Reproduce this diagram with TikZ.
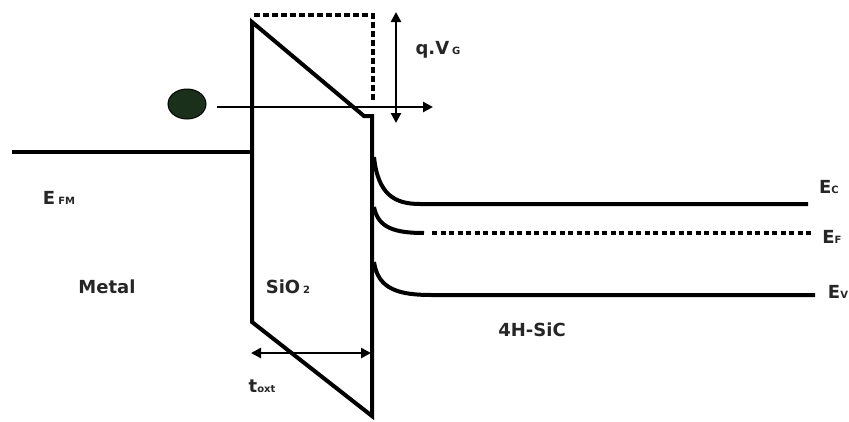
\documentclass[tikz,border=0pt]{standalone}
\usepackage{fontspec}
\setmainfont{DejaVu Sans}
\usetikzlibrary{arrows.meta}

\tikzset{
    band/.style={black, line width=4pt},
    lbl/.style={font=\fontsize{18}{20}\selectfont\bfseries, text=black!85, inner sep=0pt},
    tip/.style={line width=2.6pt, {Triangle[length=10pt,width=10pt]}-{Triangle[length=10pt,width=10pt]}}
}
\newcommand{\sub}[1]{{\fontsize{10}{10}\selectfont #1}}

\begin{document}
\begin{tikzpicture}[x=1pt,y=-1pt]
    \useasboundingbox (0,0) rectangle (849,421);

    \coordinate (m1) at (12,152);
    \coordinate (m2) at (252,152);
    \coordinate (ox1) at (252,22);
    \coordinate (ox2) at (252,322);
    \coordinate (ox3) at (372,416);
    \coordinate (ox4) at (372,116);
    \coordinate (ox5) at (364,116);
    \coordinate (q1) at (396,12);
    \coordinate (q2) at (396,123);
    \coordinate (h1) at (217,107);
    \coordinate (h2) at (433,107);
    \coordinate (t1) at (251,353);
    \coordinate (t2) at (371,353);

    \node (efm) at (59,198) [lbl] {E\,\sub{FM}};
    \node (metal) at (107,287) [lbl] {Metal};
    \node (sio) at (288,287) [lbl] {SiO\,\sub{2}};
    \node (sic) at (532,330) [lbl] {4H-SiC};
    \node (ec) at (829,187) [lbl] {E\sub{C}};
    \node (ef) at (832,237) [lbl] {E\sub{F}};
    \node (ev) at (838,292) [lbl] {E\sub{V}};
    \node (qvg) at (438,50) [lbl] {q.V\,\sub{G}};
    \node (tox) at (262,386) [lbl] {t\sub{oxt}};

    \draw[band] (m1) -- (m2);
    \draw[band, line join=miter] (ox5) -- (ox1) -- (ox2) -- (ox3) -- (ox4) -- cycle;
    \draw[line width=4pt, dash pattern=on 6pt off 3pt] (254,15) -- (373,15) -- (373,100);

    \fill[draw=black, line width=1pt, fill={rgb,255:red,26;green,48;blue,26}] (187,104) ellipse (19 and 15);
    \draw[line width=2.6pt, -{Triangle[length=10pt,width=10pt]}] (h1) -- (h2);
    \draw[tip] (q1) -- (q2);
    \draw[tip] (t1) -- (t2);

    \draw[band] (374,157) .. controls (378,195) and (395,204) .. (420,204) -- (808,204);
    \draw[band] (374,207) .. controls (378,228) and (395,233) .. (424,233);
    \draw[line width=4pt, dash pattern=on 5pt off 3.5pt] (432,233) -- (812,233);
    \draw[band] (374,262) .. controls (378,290) and (400,295) .. (432,295) -- (815,295);
\end{tikzpicture}
\end{document}
